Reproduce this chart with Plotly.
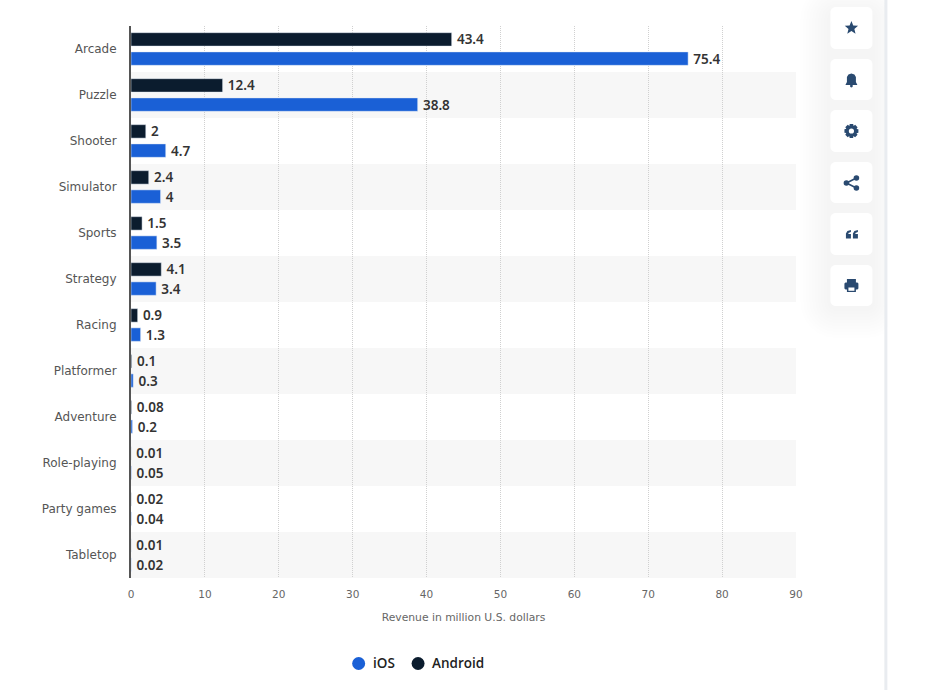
import math
import plotly.graph_objects as go

categories = ['Arcade', 'Puzzle', 'Shooter', 'Simulator', 'Sports', 'Strategy', 'Racing',
              'Platformer', 'Adventure', 'Role-playing', 'Party games', 'Tabletop']
android = [43.4, 12.4, 2, 2.4, 1.5, 4.1, 0.9, 0.1, 0.08, 0.01, 0.02, 0.01]
ios = [75.4, 38.8, 4.7, 4, 3.5, 3.4, 1.3, 0.3, 0.2, 0.05, 0.04, 0.02]
x_ticks = [0, 10, 20, 30, 40, 50, 60, 70, 80, 90]

FONT = 'DejaVu Sans'
DARK = '#0b1c2e'
BLUE = '#1a60d6'
ICON = '#2a4a70'

# plot area in window pixels
L, R, T, B = 130.5, 796.5, 26, 578
W, H = 931, 690


def px(x):
    return (x - L) / (R - L)


def py(y):
    return (B - y) / (B - T)


def rect(x0, y0, x1, y1, color, **kw):
    return dict(type='rect', xref='paper', yref='paper', x0=px(x0), x1=px(x1), y0=py(y1), y1=py(y0),
                fillcolor=color, line_width=0, **kw)


def circle(cx, cy, r, color):
    return dict(type='circle', xref='paper', yref='paper', x0=px(cx - r), x1=px(cx + r),
                y0=py(cy + r), y1=py(cy - r), fillcolor=color, line_width=0)


def poly(points, color, **kw):
    d = 'M' + ' L'.join(f'{px(a):.5f},{py(b):.5f}' for a, b in points) + ' Z'
    return dict(type='path', xref='paper', yref='paper', path=d, fillcolor=color, line_width=0, **kw)


def round_box(x0, y0, x1, y1, r, color, opacity=1):
    pts = []
    for cx, cy, start in [(x1 - r, y0 + r, -90), (x1 - r, y1 - r, 0), (x0 + r, y1 - r, 90), (x0 + r, y0 + r, 180)]:
        for k in range(7):
            a = math.radians(start + k * 15)
            pts.append((cx + r * math.cos(a), cy + r * math.sin(a)))
    return poly(pts, color, opacity=opacity)


def ring_points(cx, cy, r, n=24):
    return [(cx + r * math.cos(2 * math.pi * k / n), cy + r * math.sin(2 * math.pi * k / n)) for k in range(n)]


fig = go.Figure()
fig.add_bar(y=categories, x=android, orientation='h', name='Android', marker_color=DARK,
            text=['\u2009' + str(v) for v in android], textposition='outside', cliponaxis=False)
fig.add_bar(y=categories, x=ios, orientation='h', name='iOS', marker_color=BLUE,
            text=['\u2009' + str(v) for v in ios], textposition='outside', cliponaxis=False)
fig.update_traces(textfont=dict(family='Noto Sans', size=13.5, color='#333333', weight=600), hoverinfo='skip',
                  constraintext='none')

shapes = []
# alternating row bands
for i in range(1, len(categories), 2):
    shapes.append(dict(type='rect', xref='paper', yref='y', x0=0, x1=1, y0=i - 0.5, y1=i + 0.5,
                       fillcolor='#f7f7f7', line_width=0, layer='below'))

# sidebar: soft shadow, divider, buttons
for grow in range(30, 0, -3):
    shapes.append(round_box(831 - grow, 7 - grow + 6, 873 + grow, 306 + grow + 2, 6 + grow, '#404858', 0.006))
shapes.append(rect(888, 0, W, H, '#ffffff'))
shapes.append(rect(885, 0, 888, H, '#e9ecf0'))
buttons = [(7, 49), (59, 100), (110, 152), (162, 203), (213, 255), (265, 306)]
for y0, y1 in buttons:
    shapes.append(round_box(831, y0, 873, y1, 5, '#ffffff'))

cx = 852
# star
star = []
for k in range(10):
    r = 7 if k % 2 == 0 else 3.1
    a = math.radians(-90 + 36 * k)
    star.append((cx + r * math.cos(a), 28 + r * math.sin(a)))
shapes.append(poly(star, ICON))
# bell
shapes.append(poly([(846, 85), (847.5, 82), (847.5, 77), (849, 74.5), (852, 73.5), (855, 74.5), (856.5, 77),
                    (856.5, 82), (858, 85)], ICON))
shapes.append(circle(cx, 86, 1.4, ICON))
# gear
gear = []
for k in range(8):
    a = 45 * k
    for da, r in [(-14, 7.2), (14, 7.2), (24, 5.4)]:
        t = math.radians(a + da)
        gear.append((cx + r * math.cos(t), 131 + r * math.sin(t)))
shapes.append(poly(gear, ICON))
shapes.append(poly(ring_points(cx, 131, 5.4), ICON))
shapes.append(circle(cx, 131, 2.6, '#ffffff'))
# share
shapes.append(dict(type='path', xref='paper', yref='paper', line=dict(color=ICON, width=1.6),
                   path=f'M{px(857)},{py(178)} L{px(847)},{py(183)} L{px(857)},{py(188)}'))
shapes.append(circle(857, 178, 2.8, ICON))
shapes.append(circle(847, 183, 2.8, ICON))
shapes.append(circle(857, 188, 2.8, ICON))
# quote marks
for qx in (846.5, 853.5):
    shapes.append(poly([(qx + 5, 230), (qx + 5, 232), (qx + 2.5, 233), (qx + 2.5, 234), (qx + 5, 234), (qx + 5, 238.5),
                        (qx, 238.5), (qx, 233.5), (qx + 1.5, 231)], ICON))
# printer
shapes.append(rect(847.5, 279, 856.5, 283, ICON))
shapes.append(round_box(845, 282.5, 859, 289.5, 1.5, ICON))
shapes.append(rect(847.5, 286.5, 856.5, 292, ICON))
shapes.append(rect(849, 287.5, 855, 290.8, '#ffffff'))

# legend, drawn by hand for the tight marker spacing
annotations = []
for name, color, mark_x, text_x in [('iOS', BLUE, 358.5, 371), ('Android', DARK, 418, 430)]:
    shapes.append(circle(mark_x, 663.5, 6.5, color))
    annotations.append(dict(text=name, xref='paper', yref='paper', x=px(text_x), y=py(663), xanchor='left',
                            yanchor='middle', showarrow=False,
                            font=dict(family='Open Sans', size=13.5, color='#222222', weight=600)))

fig.update_layout(
    width=W, height=H,
    margin=dict(l=L, r=W - R, t=T, b=H - B, pad=0),
    paper_bgcolor='#ffffff', plot_bgcolor='rgba(0,0,0,0)',
    font=dict(family=FONT, color='#555555'),
    barmode='group', bargap=0.165, bargroupgap=0.3,
    shapes=shapes, annotations=annotations,
    hovermode=False, showlegend=False,
)
fig.update_xaxes(range=[0, 90], tickvals=x_ticks, showgrid=True, gridcolor='#d0d0d0', griddash='1px,1px', gridwidth=1,
                 zeroline=False, showline=False, ticks='', ticklabelstandoff=8,
                 tickfont=dict(family=FONT, size=10.5, color='#666666'),
                 title=dict(text='Revenue in million U.S. dollars', font=dict(family=FONT, size=10.75, color='#666666'),
                            standoff=14))
fig.update_yaxes(autorange='reversed', categoryorder='array', categoryarray=categories, showgrid=False,
                 showline=True, linecolor='#555555', linewidth=2, ticks='', ticklen=0, zeroline=False,
                 tickfont=dict(family=FONT, size=12, color='#555555'), ticklabelstandoff=10)

fig.write_html('out.html', post_script="document.body.style.margin='0';document.body.style.overflow='hidden';",
               config={'displayModeBar': False})
